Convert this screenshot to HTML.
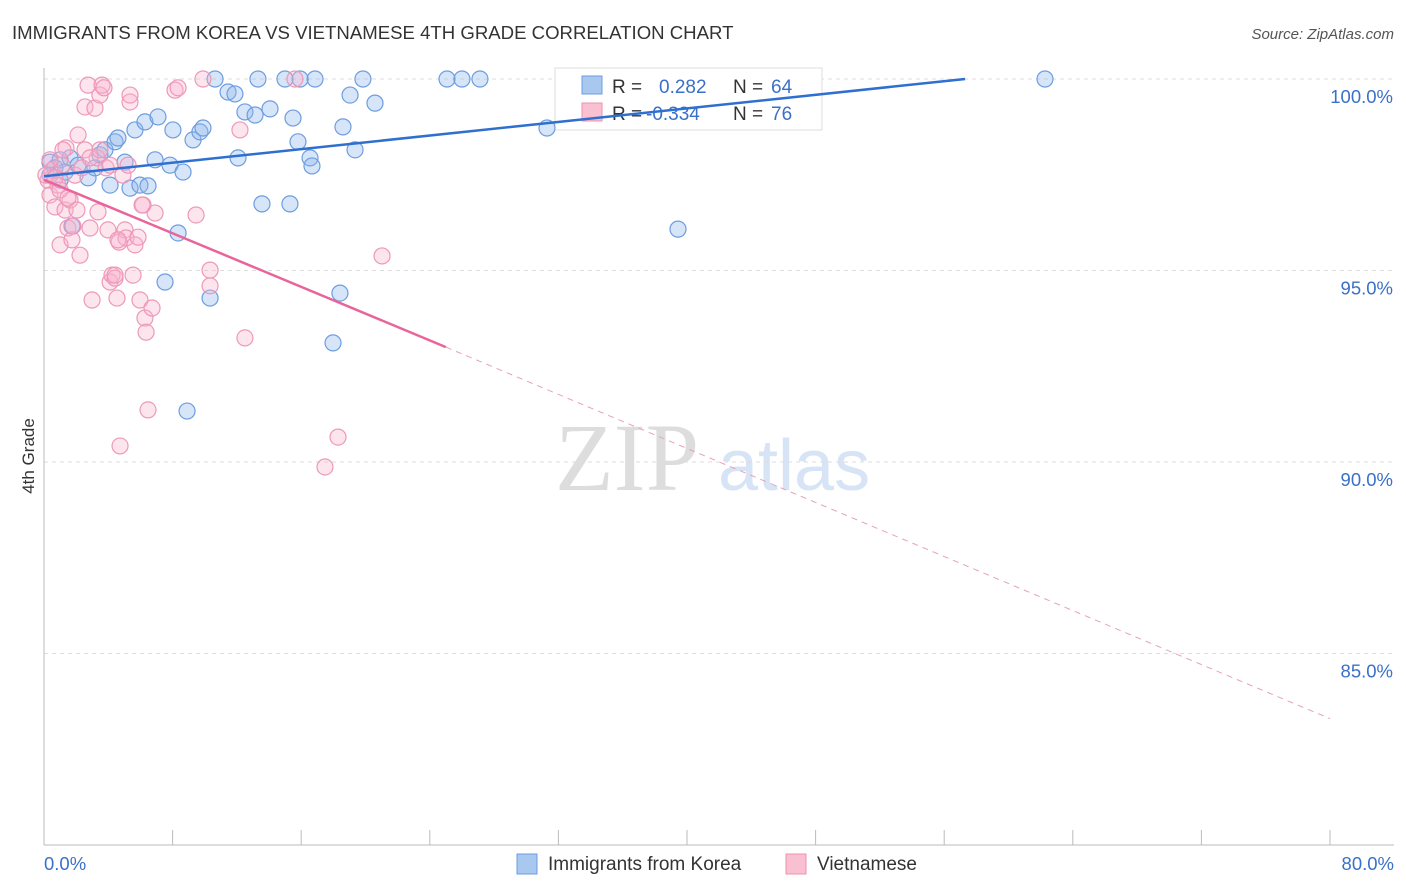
<!DOCTYPE html>
<html><head><meta charset="utf-8"><style>
body{margin:0;background:#fff;font-family:"Liberation Sans",sans-serif;}
svg{display:block}
</style></head><body>
<svg id="chart" width="1406" height="892">
<text x="12" y="39" font-size="18.6" fill="#333">IMMIGRANTS FROM KOREA VS VIETNAMESE 4TH GRADE CORRELATION CHART</text>
<text x="1394" y="39" font-size="15" fill="#555" font-style="italic" text-anchor="end">Source: ZipAtlas.com</text>
<text x="34" y="456" font-size="17" fill="#333" transform="rotate(-90 34 456)" text-anchor="middle">4th Grade</text>
<text x="555" y="490" font-size="96" fill="#ddd" font-family="Liberation Serif,serif">ZIP</text>
<text x="718" y="490" font-size="72" fill="#d6e4f5">atlas</text>
<g id="grid"></g><g id="axes"></g>
<g>
<rect x="555" y="68" width="267" height="62" fill="#fff" stroke="#ddd"/>
<rect x="582" y="76" width="20" height="18" fill="#a9c8f0" stroke="#6d9de0"/>
<rect x="582" y="103" width="20" height="18" fill="#f9c0d2" stroke="#ee90b0"/>
<text x="612" y="93" font-size="19" fill="#333">R = </text><text x="659" y="93" font-size="19" fill="#3a70c8">0.282</text>
<text x="733" y="93" font-size="19" fill="#333">N = </text><text x="771" y="93" font-size="19" fill="#3a70c8">64</text>
<text x="612" y="120" font-size="19" fill="#333">R = </text><text x="646" y="120" font-size="19" fill="#3a70c8">-0.334</text>
<text x="733" y="120" font-size="19" fill="#333">N = </text><text x="771" y="120" font-size="19" fill="#3a70c8">76</text>
</g>
<g id="pts"></g><g id="trend"></g>
<g>
<rect x="517" y="854" width="20" height="20" fill="#a9c8f0" stroke="#6d9de0"/>
<text x="548" y="870" font-size="19" fill="#333">Immigrants from Korea</text>
<rect x="786" y="854" width="20" height="20" fill="#f9c0d2" stroke="#ee90b0"/>
<text x="817" y="870" font-size="19" fill="#333">Vietnamese</text>
</g>
</svg>
<script>
const yTicks=[100,95,90,85];
const xLabels=["0.0%","80.0%"];
const koreaPx=[[50,162],[55,168],[60,160],[65,172],[70,158],[78,165],[88,178],[95,168],[100,155],[105,150],[110,185],[115,142],[118,138],[125,162],[130,188],[135,130],[140,185],[145,122],[148,186],[155,160],[158,117],[170,165],[173,130],[178,233],[183,172],[187,411],[193,140],[200,132],[203,128],[210,298],[215,79],[228,92],[235,94],[238,158],[245,112],[255,115],[258,79],[262,204],[270,109],[285,79],[290,204],[293,118],[298,142],[310,158],[312,166],[315,79],[340,293],[333,343],[343,127],[350,95],[355,150],[363,79],[375,103],[447,79],[462,79],[480,79],[547,128],[678,229],[1045,79],[165,282],[300,79],[50,175],[60,180],[72,226]];
const vietPx=[[48,180],[50,195],[52,170],[55,207],[58,185],[60,245],[62,165],[65,210],[66,148],[68,228],[70,200],[72,240],[75,175],[78,135],[80,255],[82,168],[85,107],[88,85],[90,228],[92,300],[95,108],[97,158],[98,212],[100,95],[102,85],[104,88],[106,168],[108,230],[110,282],[112,275],[115,278],[117,298],[119,242],[120,446],[123,175],[125,230],[126,238],[128,165],[130,102],[133,275],[135,245],[138,237],[140,300],[143,205],[145,318],[146,332],[148,410],[152,308],[155,213],[175,90],[178,88],[196,215],[203,79],[210,270],[210,286],[240,130],[245,338],[295,79],[325,467],[338,437],[382,256],[46,175],[50,160],[55,178],[60,190],[63,150],[68,198],[73,226],[77,210],[85,150],[90,158],[100,150],[110,165],[115,275],[118,240],[130,95],[142,205]];
const korea=koreaPx.map(p=>[+( (p[0]-44)/1286*80).toFixed(2),+(100-(p[1]-79)/191.5*5).toFixed(2)]);
const viet=vietPx.map(p=>[+((p[0]-44)/1286*80).toFixed(2),+(100-(p[1]-79)/191.5*5).toFixed(2)]);
const koreaTrend=[[0,97.46],[57.3,100]];
const vietTrend=[[0,97.37],[25,93.0],[80,83.3]];
const X=v=>44+v/80*1286, Y=v=>79+(100-v)/5*191.5;
const NS="http://www.w3.org/2000/svg";
function mk(t,a,parent){const e=document.createElementNS(NS,t);for(const k in a)e.setAttribute(k,a[k]);document.getElementById(parent).appendChild(e);return e;}
yTicks.forEach(t=>{
 const l=mk('line',{x1:44,x2:1394,y1:Y(t),y2:Y(t),stroke:'#ddd','stroke-dasharray':'4 4'},'grid');
 
 
 const tx=mk('text',{x:1393,y:Y(t)+24,'font-size':18.5,fill:'#3a70c8','text-anchor':'end'},'grid');
 tx.textContent=t.toFixed(1)+'%';
 
 
});
const ax=mk('line',{x1:44,x2:1394,y1:845,y2:845,stroke:'#bbb'},'axes');


const ay=mk('line',{x1:44,x2:44,y1:68,y2:845,stroke:'#bbb'},'axes');


for(let i=0;i<=10;i++){const t=mk('line',{x1:X(i*8),x2:X(i*8),y1:830,y2:845,stroke:'#bbb'},'axes');
 
 }
[[0,44,'start'],[1,1394,'end']].forEach(([i,x,a])=>{const t=mk('text',{x:x,y:870,'font-size':18.5,fill:'#3a70c8','text-anchor':a},'axes');t.textContent=xLabels[i];
 
 });
korea.forEach(p=>{const c=mk('circle',{cx:X(p[0]),cy:Y(p[1]),r:8,fill:'rgba(140,180,235,0.35)',stroke:'#6d9de0','stroke-width':1.2},'pts');
 
 });
viet.forEach(p=>{const c=mk('circle',{cx:X(p[0]),cy:Y(p[1]),r:8,fill:'rgba(248,180,205,0.35)',stroke:'#ee98b8','stroke-width':1.2},'pts');
 
 });
const kt=mk('line',{x1:X(koreaTrend[0][0]),y1:Y(koreaTrend[0][1]),x2:X(koreaTrend[1][0]),y2:Y(koreaTrend[1][1]),stroke:'#2e6fd0','stroke-width':2.5},'trend');


const vt=mk('line',{x1:X(vietTrend[0][0]),y1:Y(vietTrend[0][1]),x2:X(vietTrend[1][0]),y2:Y(vietTrend[1][1]),stroke:'#e8649a','stroke-width':2.5},'trend');


const vd=mk('line',{x1:X(vietTrend[1][0]),y1:Y(vietTrend[1][1]),x2:X(vietTrend[2][0]),y2:Y(vietTrend[2][1]),stroke:'#e8a0bd','stroke-width':1,'stroke-dasharray':'6 5'},'trend');


</script>
</body></html>
